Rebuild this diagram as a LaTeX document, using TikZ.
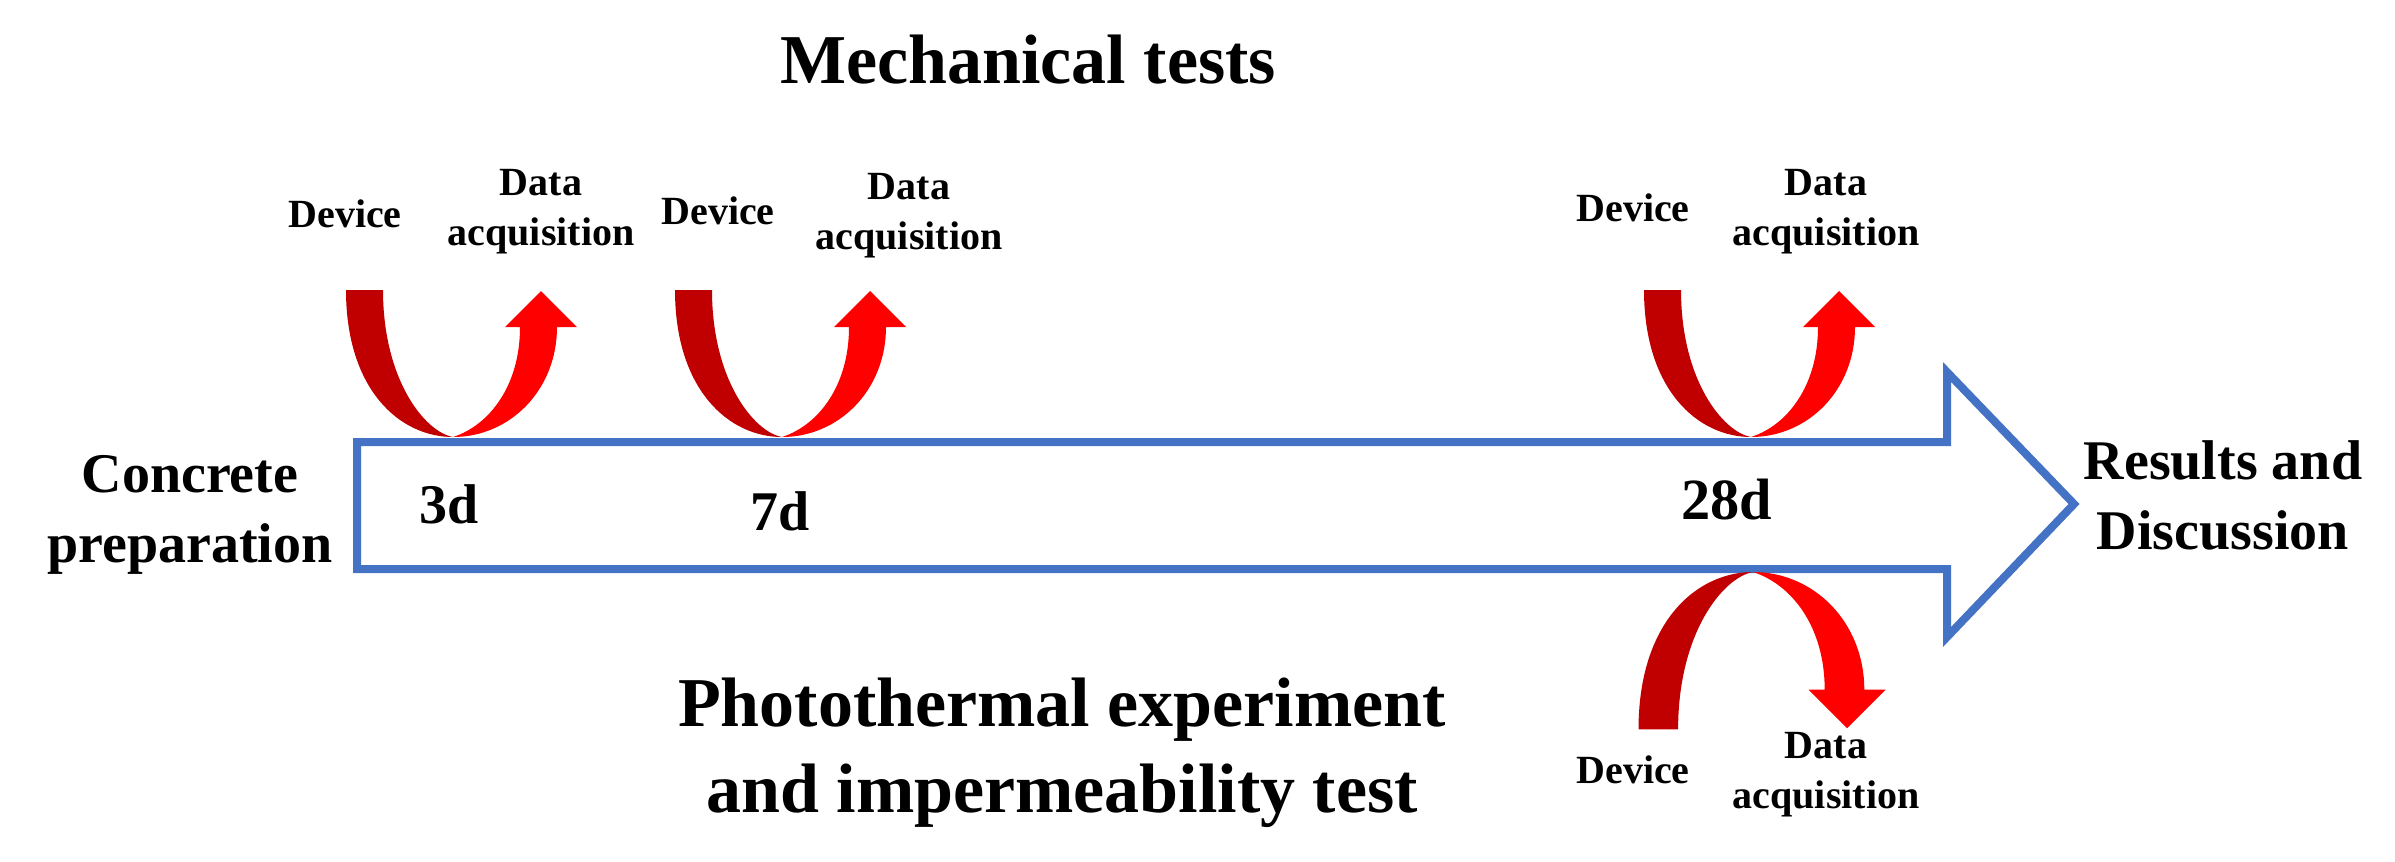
\documentclass[tikz,border=0pt]{standalone}
\usepackage{fontspec}
\setmainfont{Liberation Serif}
\definecolor{darkred}{HTML}{C00000}
\definecolor{brightred}{HTML}{FF0000}
\definecolor{blueline}{HTML}{4472C4}
\tikzset{
  uturn/.pic={
    \fill[darkred] (0,0) .. controls (-53,0) and (-107,-47) .. (-107,-147)
      -- (-70,-147) .. controls (-70,-57) and (-28,-5) .. (0,0) -- cycle;
    \fill[brightred] (0,0) .. controls (57,0) and (104,-47) .. (104,-110)
      -- (124,-110) -- (88,-146) -- (52,-110) -- (67,-110)
      .. controls (67,-52) and (37,-12) .. (0,0) -- cycle;
  },
  lbl/.style={inner sep=0pt, anchor=base, align=center, text=black},
  small/.style={lbl, font=\bfseries\fontsize{12}{15}\selectfont},
  mid/.style={lbl, font=\bfseries\fontsize{16.8}{21}\selectfont},
  big/.style={lbl, font=\bfseries\fontsize{21}{25.8}\selectfont},
}
\begin{document}
\begin{tikzpicture}[x=0.3pt, y=-0.3pt]
\useasboundingbox (0,0) rectangle (2395,861);
% big block arrow
\draw[blueline, line width=2.4pt, line join=miter, fill=white]
  (357,442) -- (1947,442) -- (1947,372) -- (2074,504) -- (1947,637)
  -- (1947,569) -- (357,569) -- cycle;
% u-turn arrows
\pic at (453,437) {uturn};
\pic at (782,437) {uturn};
\pic at (1751,437) {uturn};
\pic[xscale=1.07, yscale=-1.07] at (1753,572) {uturn};
% titles
\node[big] (mech) at (1028,83) {Mechanical tests};
\node[big] (photo) at (1062,812) {Photothermal experiment\\and impermeability test};
% side labels
\node[mid] (conc) at (190,562) {Concrete\\preparation};
\node[mid] (res) at (2223,549) {Results and\\Discussion};
% days
\node[mid] (d3) at (449,523) {3d};
\node[mid] (d7) at (780,530) {7d};
\node[mid, font=\bfseries\fontsize{17.5}{21}\selectfont] (d28) at (1727,519) {28d};
% device / data labels
\node[small] (dev1) at (345,227) {Device};
\node[small] (dat1) at (541,245) {Data\\acquisition};
\node[small] (dev2) at (718,224) {Device};
\node[small] (dat2) at (909,249) {Data\\acquisition};
\node[small] (dev3) at (1633,221) {Device};
\node[small] (dat3) at (1826,245) {Data\\acquisition};
\node[small] (dev4) at (1633,783) {Device};
\node[small] (dat4) at (1826,808) {Data\\acquisition};
\end{tikzpicture}
\end{document}
